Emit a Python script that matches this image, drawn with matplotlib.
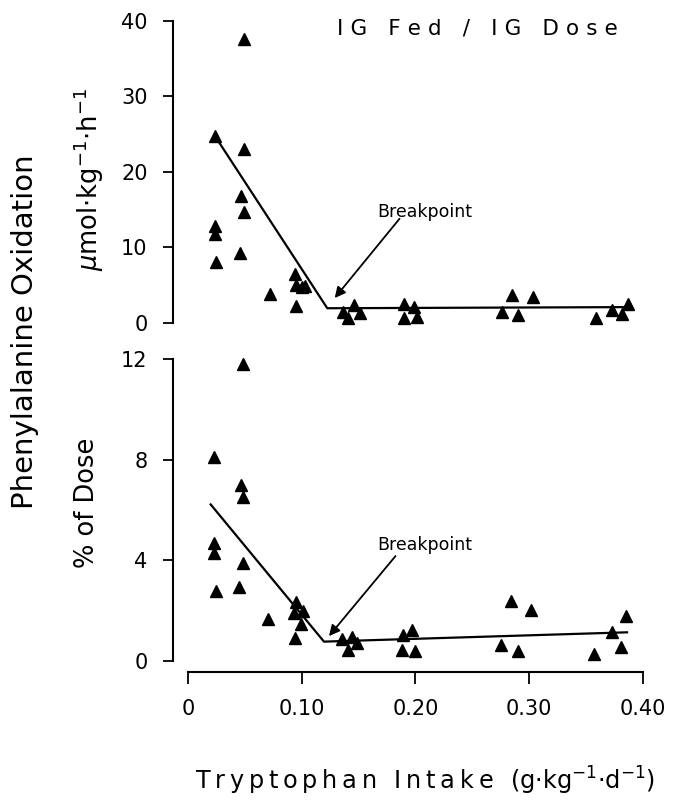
import matplotlib.pyplot as plt

# top panel: umol/kg/h
x_top = [0.049, 0.024, 0.049, 0.047, 0.049, 0.024, 0.024, 0.046, 0.025, 0.094,
         0.095, 0.100, 0.103, 0.072, 0.095, 0.136, 0.146, 0.141, 0.151, 0.190,
         0.199, 0.190, 0.201, 0.285, 0.303, 0.276, 0.290, 0.3585, 0.373, 0.382, 0.387]
y_top = [37.6, 24.7, 23.0, 16.8, 14.7, 12.8, 11.8, 9.2, 8.1, 6.5,
         5.0, 4.8, 4.9, 3.9, 2.25, 1.5, 2.4, 0.6, 1.3, 2.5,
         2.1, 0.6, 0.75, 3.7, 3.5, 1.5, 1.06, 0.6, 1.7, 1.2, 2.5]
fit_top_x = [0.024, 0.1225, 0.387]
fit_top_y = [24.7, 1.95, 2.1]

# bottom panel: % of dose
x_bot = [0.048, 0.0231, 0.0465, 0.048, 0.0231, 0.0231, 0.0485, 0.0246, 0.0447, 0.070,
         0.0953, 0.101, 0.093, 0.099, 0.094, 0.1357, 0.1445, 0.149, 0.1406, 0.1889,
         0.197, 0.188, 0.200, 0.284, 0.3015, 0.275, 0.290, 0.357, 0.3725, 0.381, 0.385]
y_bot = [11.8, 8.12, 6.99, 6.53, 4.70, 4.28, 3.88, 2.79, 2.95, 1.67,
         2.33, 2.0, 1.89, 1.47, 0.90, 0.87, 0.94, 0.73, 0.44, 1.03,
         1.23, 0.44, 0.41, 2.40, 2.03, 0.64, 0.41, 0.28, 1.16, 0.57, 1.79]
fit_bot_x = [0.020, 0.1196, 0.386]
fit_bot_y = [6.22, 0.77, 1.14]

x_ticks = [0, 0.10, 0.20, 0.30, 0.40]
x_ticklabels = ['0', '0.10', '0.20', '0.30', '0.40']
y_ticks_top = [0, 10, 20, 30, 40]
y_ticks_bot = [0, 4, 8, 12]


def spaced(s, gap='\u2009'):
    # crude letter spacing
    return gap.join(s)


fig = plt.figure(figsize=(6.76, 8.02), dpi=100)
ax1 = fig.add_axes([0.278, 0.5973, 0.6731, 0.3766])
ax2 = fig.add_axes([0.278, 0.1758, 0.6731, 0.3766])

for ax in (ax1, ax2):
    for s in ('top', 'right'):
        ax.spines[s].set_visible(False)
    ax.spines['left'].set_position(('outward', 11))
    ax.spines['left'].set_linewidth(1.5)
    ax.set_xlim(0, 0.40)
    ax.tick_params(axis='y', direction='out', length=7, width=1.3, pad=11, labelsize=15)

ax1.spines['bottom'].set_visible(False)
ax1.set_xticks([])
ax1.set_ylim(0, 40)
ax1.set_yticks(y_ticks_top)

ax2.spines['bottom'].set_position(('outward', 8))
ax2.spines['bottom'].set_linewidth(1.5)
ax2.set_ylim(0, 12)
ax2.set_yticks(y_ticks_bot)
ax2.set_xticks(x_ticks)
ax2.set_xticklabels(x_ticklabels)
ax2.tick_params(axis='x', direction='out', length=8.5, width=1.3, pad=11, labelsize=15)

ax1.plot(x_top, y_top, '^', color='black', ms=8.5, clip_on=False)
ax1.plot(fit_top_x, fit_top_y, color='black', lw=1.6)
ax2.plot(x_bot, y_bot, '^', color='black', ms=8.5, clip_on=False)
ax2.plot(fit_bot_x, fit_bot_y, color='black', lw=1.6)

arrow = dict(arrowstyle='-|>', color='black', lw=1.3, mutation_scale=16, shrinkA=0, shrinkB=0)
ax1.annotate('', xy=(0.129, 3.3), xytext=(0.186, 13.8), arrowprops=arrow)
ax1.text(0.208, 14.7, 'Breakpoint', ha='center', va='center', fontsize=12.5)
ax2.annotate('', xy=(0.124, 0.99), xytext=(0.1825, 4.17), arrowprops=arrow)
ax2.text(0.208, 4.6, 'Breakpoint', ha='center', va='center', fontsize=12.5)

fig.text(0.706, 0.965, spaced('IG Fed / IG Dose', '\u2004'), ha='center', va='center', fontsize=15.5)
fig.text(0.037, 0.587, 'Phenylalanine Oxidation', rotation=90, ha='center', va='center', fontsize=21)
fig.text(0.131, 0.776, r'$\mu$mol$\cdot$kg$^{-1}$$\cdot$h$^{-1}$', rotation=90,
         ha='center', va='center', fontsize=18.5)
fig.text(0.129, 0.373, '% of Dose', rotation=90, ha='center', va='center', fontsize=18.5)
fig.text(0.629, 0.026, spaced('Tryptophan Intake (') + r'g$\cdot$kg$^{-1}$$\cdot$d$^{-1}$)',
         ha='center', va='center', fontsize=17.3)

fig.savefig('out.png', dpi=100)
